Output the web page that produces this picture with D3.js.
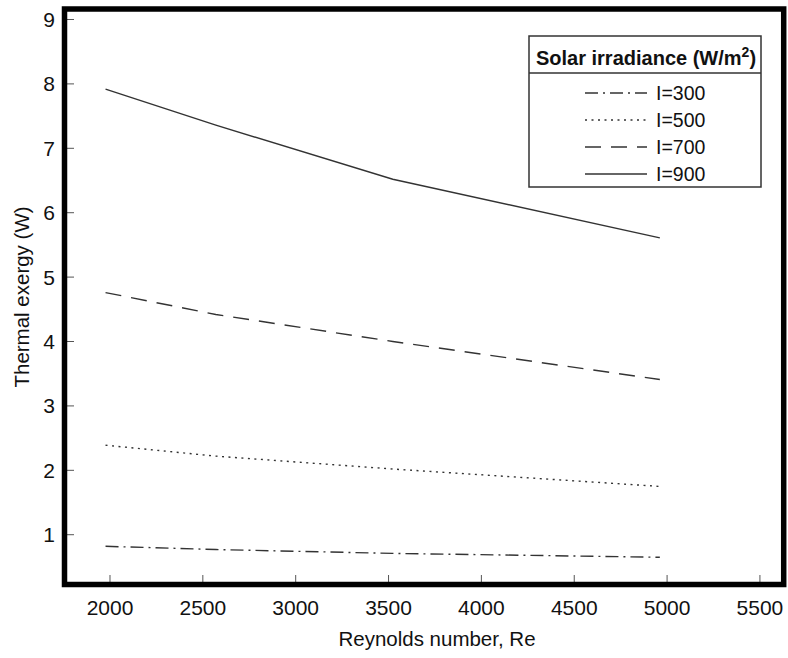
<!DOCTYPE html>
<html>
<head>
<meta charset="utf-8">
<script src="https://cdn.jsdelivr.net/npm/d3@7"></script>
<style>
  body { margin: 0; background: #fff; }
  text { font-family: "Liberation Sans", Arial, sans-serif; fill: #111; }
</style>
</head>
<body>
<script>
// data
var reynolds = [1976, 2570, 3523, 4961];
var i300 = [0.82, 0.77, 0.71, 0.65];
var i500 = [2.39, 2.22, 2.02, 1.75];
var i700 = [4.76, 4.42, 4.00, 3.41];
var i900 = [7.92, 7.36, 6.52, 5.61];
var seriesNames = ["I=300", "I=500", "I=700", "I=900"];
var xTicks = [2000, 2500, 3000, 3500, 4000, 4500, 5000, 5500];
var yTicks = [1, 2, 3, 4, 5, 6, 7, 8, 9];

var dashes = ["13,5,2,5", "2,4.5", "16,10", null];
var allSeries = [i300, i500, i700, i900];

var W = 788, H = 658;
var plotL = 64.5, plotR = 783.7, plotT = 9, plotB = 584.5;

var svg = d3.select("body").append("svg")
  .attr("width", W).attr("height", H);

var x = d3.scaleLinear().domain([1755, 5628]).range([plotL, plotR]);
var y = d3.scaleLinear().domain([0.227, 9.163]).range([plotB, plotT]);

// ticks (inward)
svg.append("g").selectAll("line").data(xTicks).enter().append("line")
  .attr("x1", function(d) { return x(d); }).attr("x2", function(d) { return x(d); })
  .attr("y1", plotB).attr("y2", plotB - 9.5)
  .attr("stroke", "#555").attr("stroke-width", 1);
svg.append("g").selectAll("line").data(yTicks).enter().append("line")
  .attr("y1", function(d) { return y(d); }).attr("y2", function(d) { return y(d); })
  .attr("x1", plotL).attr("x2", plotL + 9.5)
  .attr("stroke", "#555").attr("stroke-width", 1);

// tick labels
svg.append("g").selectAll("text").data(xTicks).enter().append("text")
  .attr("x", function(d) { return x(d); }).attr("y", 615)
  .attr("text-anchor", "middle").attr("font-size", 21)
  .text(function(d) { return d; });
svg.append("g").selectAll("text").data(yTicks).enter().append("text")
  .attr("x", 55).attr("y", function(d) { return y(d); }).attr("dy", "0.36em")
  .attr("text-anchor", "end").attr("font-size", 21)
  .text(function(d) { return d; });

// axis titles
svg.append("text").attr("x", 437).attr("y", 646)
  .attr("text-anchor", "middle").attr("font-size", 20.5)
  .text("Reynolds number, Re");
svg.append("text").attr("transform", "translate(29,297) rotate(-90)")
  .attr("text-anchor", "middle").attr("font-size", 20.5)
  .text("Thermal exergy (W)");

// lines
var line = d3.line()
  .x(function(d, i) { return x(reynolds[i]); })
  .y(function(d) { return y(d); });

svg.append("g").selectAll("path").data(allSeries).enter().append("path")
  .attr("d", line)
  .attr("fill", "none")
  .attr("stroke", "#333")
  .attr("stroke-width", 1.4)
  .attr("stroke-dasharray", function(d, i) { return dashes[i]; });

// frame
svg.append("rect")
  .attr("x", plotL).attr("y", plotT)
  .attr("width", plotR - plotL).attr("height", plotB - plotT)
  .attr("fill", "none").attr("stroke", "#000").attr("stroke-width", 5.5);

// legend
var lg = svg.append("g");
lg.append("rect").attr("x", 529).attr("y", 36).attr("width", 232).attr("height", 151)
  .attr("fill", "#fff").attr("stroke", "#333").attr("stroke-width", 1.5);
lg.append("line").attr("x1", 529).attr("x2", 761).attr("y1", 73).attr("y2", 73)
  .attr("stroke", "#333").attr("stroke-width", 1.5);
var title = lg.append("text").attr("x", 646).attr("y", 65)
  .attr("text-anchor", "middle").attr("font-size", 20).attr("font-weight", "bold")
  .text("Solar irradiance (W/m");
title.append("tspan").attr("font-size", 14).attr("baseline-shift", "super").text("2");
title.append("tspan").text(")");

var rowY = [93, 120, 147, 174];
var rows = lg.selectAll("g.row").data(seriesNames).enter().append("g").attr("class", "row");
rows.append("line")
  .attr("x1", 585).attr("x2", 647)
  .attr("y1", function(d, i) { return rowY[i]; }).attr("y2", function(d, i) { return rowY[i]; })
  .attr("stroke", "#333").attr("stroke-width", 1.4)
  .attr("stroke-dasharray", function(d, i) { return dashes[i]; });
rows.append("text")
  .attr("x", 656).attr("y", function(d, i) { return rowY[i]; }).attr("dy", "0.36em")
  .attr("font-size", 19.5)
  .text(function(d) { return d; });
</script>
</body>
</html>
